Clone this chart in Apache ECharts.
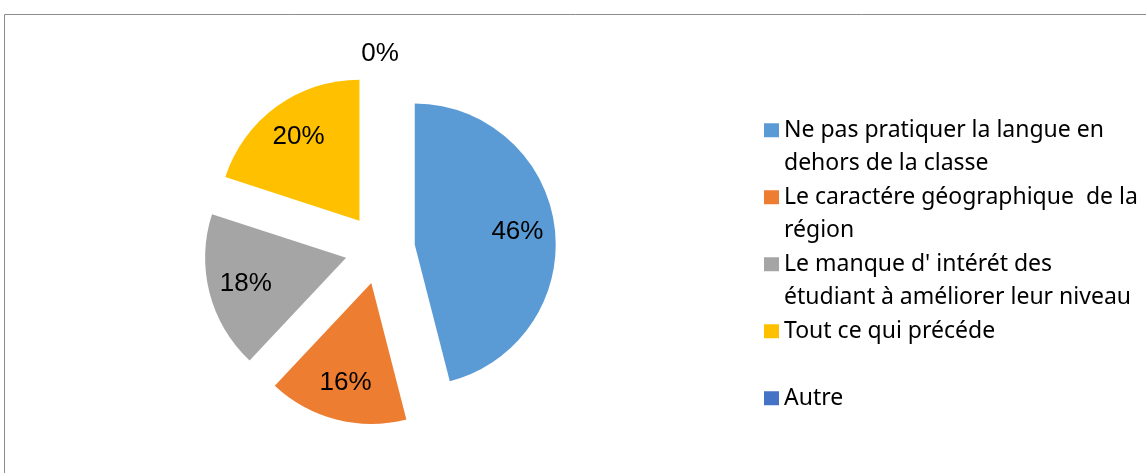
<!DOCTYPE html>
<html>
<head>
<meta charset="utf-8">
<script src="https://cdn.jsdelivr.net/npm/echarts@6/dist/echarts.min.js"></script>
<style>
  html, body { margin: 0; padding: 0; background: #fff; }
  #chart { width: 1146px; height: 473px; }
</style>
</head>
<body>
<div id="chart"></div>
<script>
// données du graphique
const categories = [
  'Ne pas pratiquer la langue en\ndehors de la classe',
  'Le caractére géographique  de la\nrégion',
  "Le manque d' intérét des\nétudiant à améliorer leur niveau",
  'Tout ce qui précéde',
  'Autre'
]
const values = [46, 16, 18, 20, 0]
const colors = ['#5B9BD5', '#ED7D31', '#A5A5A5', '#FFC000', '#4472C4']

// angle médian de chaque part (sens horaire depuis le haut)
const total = values.reduce((a, b) => a + b, 0)
let cum = 0
const midAngles = values.map((v) => {
  const m = ((cum + v / 2) / total) * Math.PI * 2
  cum += v
  return m
})

const chart = echarts.init(document.getElementById('chart'))

chart.setOption({
  backgroundColor: '#fff',
  animation: false,
  graphic: [
    {
      type: 'rect',
      shape: { x: 4.5, y: 14.5, width: 1200, height: 600 },
      style: { fill: 'none', stroke: '#8c8c8c', lineWidth: 1 },
      silent: true
    }
  ],
  legend: {
    orient: 'vertical',
    left: 764,
    top: 80,
    padding: 0,
    itemWidth: 15,
    itemHeight: 14,
    itemGap: -33.5,
    icon: 'rect',
    selectedMode: false,
    data: categories,
    formatter: (name) => '\n' + (name.includes('\n') ? name : name + '\n '),
    textStyle: {
      fontFamily: 'Noto Sans',
      fontSize: 23,
      lineHeight: 33.5,
      color: '#000'
    }
  },
  series: [
    {
      type: 'pie',
      center: [380, 249],
      radius: 141,
      startAngle: 90,
      clockwise: true,
      selectedMode: 'multiple',
      selectedOffset: 35,
      avoidLabelOverlap: false,
      minShowLabelAngle: 0,
      emphasis: { disabled: true },
      label: {
        show: true,
        position: 'inside',
        formatter: '{d}%',
        fontFamily: 'Liberation Sans',
        fontSize: 26,
        color: '#000'
      },
      labelLine: { show: false },
      labelLayout: (p) => {
        if (p.dataIndex === values.length - 1) return { align: 'center' }
        const a = midAngles[p.dataIndex]
        return { dx: 30 * Math.sin(a), dy: -30 * Math.cos(a) }
      },
      data: categories.map((name, i) => ({
        name,
        value: values[i],
        selected: true,
        itemStyle: { color: colors[i] },
        label: i === values.length - 1 ? { position: 'outside', distanceToLabelLine: 0 } : undefined,
        labelLine: i === values.length - 1 ? { show: false, length: 19, length2: 0 } : undefined
      }))
    }
  ]
})
</script>
</body>
</html>
